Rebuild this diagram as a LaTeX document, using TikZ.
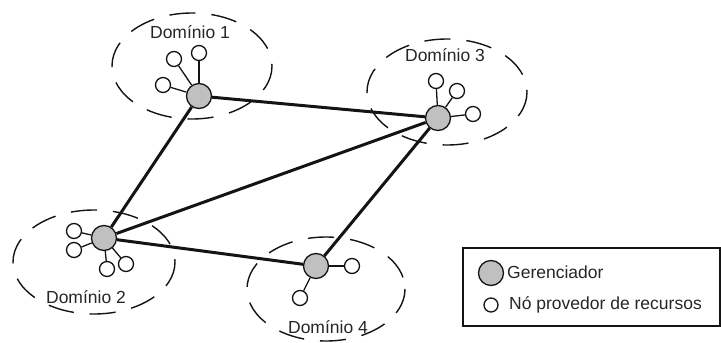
\documentclass[tikz,border=0pt]{standalone}
\usepackage{fontspec}
\setmainfont{Liberation Sans}
\usepackage{tikz}
\usetikzlibrary{positioning}
\definecolor{gercol}{RGB}{192,192,192}
\definecolor{linecol}{RGB}{20,20,20}

\begin{document}
\begin{tikzpicture}[x=1pt, y=-1pt,
  ger/.style={circle, draw=linecol, line width=1.3pt, fill=gercol,
              minimum size=25pt, inner sep=0pt},
  rec/.style={circle, draw=linecol, line width=1.3pt, fill=white,
              minimum size=15pt, inner sep=0pt},
  link/.style={line width=3pt, linecol},
  leaf/.style={line width=1.3pt, linecol},
  dominio/.style={draw=linecol, line width=1.4pt, dash pattern=on 26pt off 16pt},
  rotulo/.style={font=\fontsize{17.5}{20}\selectfont, text=black!85, inner sep=0pt}
]
\useasboundingbox (0,0) rectangle (721,343);

% Dashed domain borders
\draw[dominio] (192,66)  ellipse [x radius=80, y radius=53];
\draw[dominio] (447,92)  ellipse [x radius=80, y radius=53];
\draw[dominio] (94,262)  ellipse [x radius=81, y radius=52];
\draw[dominio] (326,289) ellipse [x radius=79, y radius=52];

% Domain labels
\node[rotulo] (lab1) at (190,32)  {Domínio 1};
\node[rotulo] (lab3) at (445,55)  {Domínio 3};
\node[rotulo] (lab2) at (86,297)  {Domínio 2};
\node[rotulo] (lab4) at (328,327) {Domínio 4};

% Managers
\node[ger] (g1) at (199,96)  {};
\node[ger] (g3) at (438,118) {};
\node[ger] (g2) at (104,238) {};
\node[ger] (g4) at (316,266) {};

% Resource providers
\node[rec] (r1a) at (163,85)  {};
\node[rec] (r1b) at (174,59)  {};
\node[rec] (r1c) at (199,53)  {};

\node[rec] (r3a) at (436,81)  {};
\node[rec] (r3b) at (457,91)  {};
\node[rec] (r3c) at (473,114) {};

\node[rec] (r2a) at (74,231)  {};
\node[rec] (r2b) at (74,250)  {};
\node[rec] (r2c) at (107,269) {};
\node[rec] (r2d) at (126,264) {};

\node[rec] (r4a) at (352,266) {};
\node[rec] (r4b) at (300,298) {};

% Links between managers
\foreach \a/\b in {g1/g3, g1/g2, g2/g3, g2/g4, g4/g3}
  \draw[link] (\a) -- (\b);

% Links to resource providers
\foreach \a/\b in {g1/r1a, g1/r1b, g1/r1c, g3/r3a, g3/r3b, g3/r3c,
                   g2/r2a, g2/r2b, g2/r2c, g2/r2d, g4/r4a, g4/r4b}
  \draw[leaf] (\a) -- (\b);

% Legend
\draw[line width=1.3pt, linecol] (463,248) rectangle (720,326);
\node[ger] (leg1) at (491,273) {};
\node[rec, minimum size=14pt] (leg2) at (491,305) {};
\node[rotulo, anchor=west] (legt1) at (507,272) {Gerenciador};
\node[rotulo, anchor=west] (legt2) at (509,305) {Nó provedor de recursos};

\end{tikzpicture}
\end{document}
